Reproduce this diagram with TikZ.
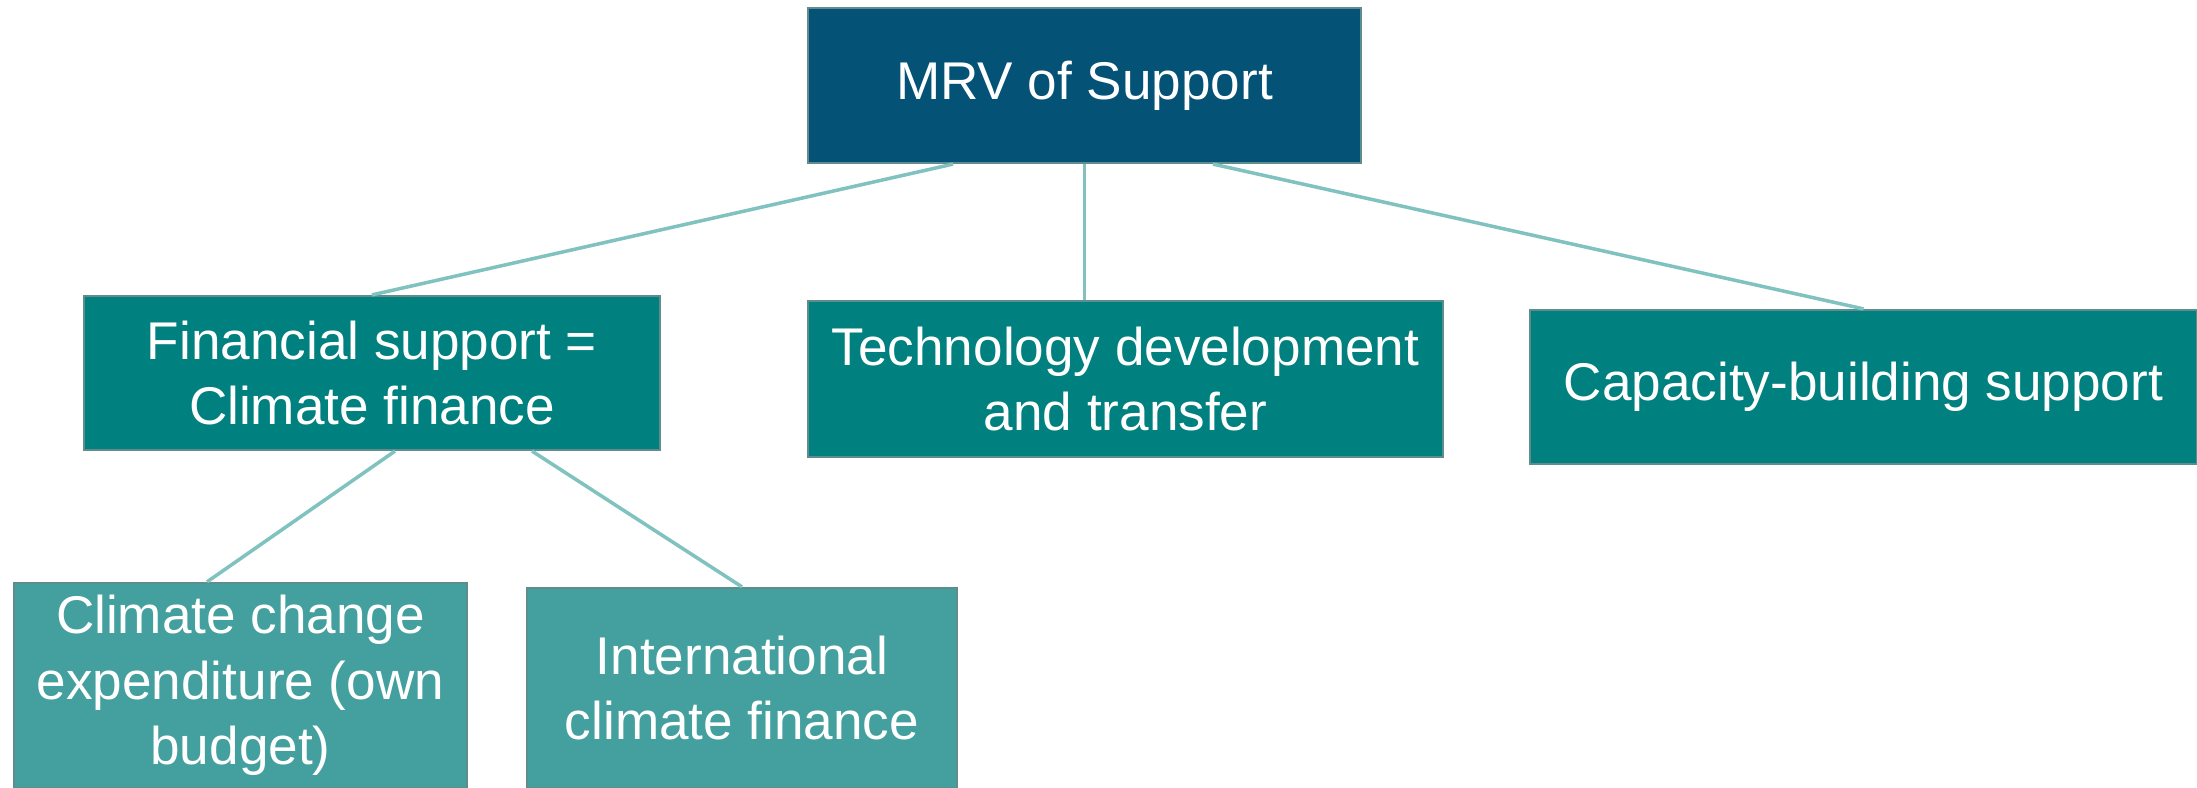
\documentclass[tikz,border=0pt]{standalone}
\usepackage{fontspec}
\setmainfont{Liberation Sans}
\usetikzlibrary{calc}

\definecolor{topblue}{HTML}{045275}
\definecolor{midteal}{HTML}{00807F}
\definecolor{lowteal}{HTML}{43A09E}
\definecolor{boxline}{HTML}{5F8C8C}
\definecolor{linkline}{HTML}{80C2BF}

\begin{document}
\begin{tikzpicture}[x=0.01cm,y=-0.01cm,
    box/.style={rectangle,draw=boxline,line width=0.6pt,text=white,inner sep=0pt,
                align=center,font=\fontsize{15.1}{18.6}\selectfont},
    top node/.style={box,fill=topblue},
    mid node/.style={box,fill=midteal},
    low node/.style={box,fill=lowteal},
    link/.style={draw=linkline,line width=1pt}]

  \useasboundingbox (0,0) rectangle (2197,788);

  \node[top node,minimum width=5.53cm,minimum height=1.55cm] (mrv) at (1084.5,85.5) {MRV of Support};
  \node[mid node,minimum width=5.76cm,minimum height=1.54cm] (fin) at (372,373) {Financial support =\\Climate finance};
  \node[mid node,minimum width=6.35cm,minimum height=1.56cm] (tech) at (1125.5,379) {Technology development\\and transfer};
  \node[mid node,minimum width=6.67cm,minimum height=1.54cm] (cap) at (1863.5,387) {Capacity-building support};
  \node[low node,minimum width=4.53cm,minimum height=2.05cm] (own) at (240.5,685.5) {Climate change\\expenditure (own\\budget)};
  \node[low node,minimum width=4.30cm,minimum height=2.00cm] (intl) at (742,688) {International\\climate finance};

  \path[link]
    ($(mrv.south)+(-131.5,0)$) edge (fin.north)
    (mrv.south) edge (mrv.south |- tech.north)
    ($(mrv.south)+(128.5,0)$) edge (cap.north)
    ($(fin.south)+(23,0)$) edge ($(own.north)+(-33.5,0)$)
    ($(fin.south)+(160,0)$) edge (intl.north);
\end{tikzpicture}
\end{document}
